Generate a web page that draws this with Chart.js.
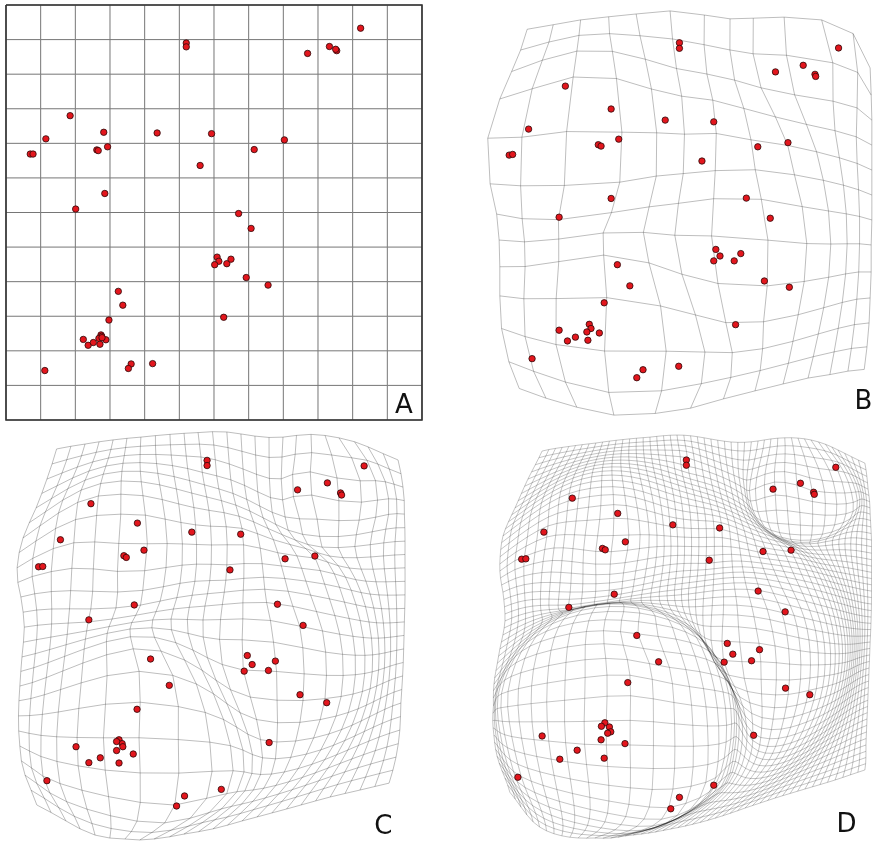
<!DOCTYPE html>
<html>
<head>
<meta charset="utf-8">
<script src="https://cdn.jsdelivr.net/npm/chart.js@4.4.1/dist/chart.umd.min.js"></script>
<style>
  body { margin: 0; background: #fff; }
  #page { position: relative; width: 873px; height: 842px; overflow: hidden; }
  #page canvas { position: absolute; }
</style>
</head>
<body>
<div id="page">
  <canvas id="panelA" width="430" height="425" style="left:0;top:0"></canvas>
  <canvas id="panelB" width="443" height="425" style="left:430px;top:0"></canvas>
  <canvas id="panelC" width="430" height="417" style="left:0;top:425px"></canvas>
  <canvas id="panelD" width="443" height="417" style="left:430px;top:425px"></canvas>
</div>
<script>
// All coordinates are in cells of the original 12 x 12 grid (panel A), y grows downward.

// --- Points that can be followed through every panel (same order in each) ---
const ptAx = [5.20, 5.20, 10.23, 8.70, 9.33, 9.54, 9.51, 1.85, 1.15, 0.70, 0.78, 2.82, 2.62, 2.66, 2.93, 4.36, 5.93, 5.60, 8.03, 7.16, 2.85, 2.01, 6.71, 7.07, 6.09, 6.14, 6.02, 6.37, 6.49, 6.93, 7.56, 6.28, 3.24, 3.37, 2.97, 3.61, 3.53, 4.23, 1.12];
const ptAy = [1.10, 1.21, 0.67, 1.40, 1.20, 1.32, 1.28, 3.20, 3.87, 4.31, 4.31, 3.68, 4.19, 4.21, 4.10, 3.70, 3.72, 4.64, 3.90, 4.18, 5.45, 5.90, 6.03, 6.46, 7.29, 7.41, 7.51, 7.48, 7.35, 7.88, 8.10, 9.03, 8.28, 8.68, 9.11, 10.38, 10.51, 10.37, 10.57];

const ptBx = [5.81, 5.81, 10.40, 8.58, 9.38, 9.72, 9.74, 2.52, 1.46, 0.90, 1.00, 3.84, 3.47, 3.55, 4.06, 5.40, 6.80, 6.46, 8.94, 8.07, 3.84, 2.34, 7.74, 8.43, 6.86, 6.98, 6.80, 7.39, 7.58, 8.26, 8.98, 7.43, 4.02, 4.38, 3.64, 4.76, 4.58, 5.79, 1.56];
const ptBy = [1.09, 1.25, 1.24, 1.93, 1.74, 2.00, 2.06, 2.34, 3.58, 4.33, 4.31, 3.00, 4.03, 4.07, 3.87, 3.32, 3.37, 4.50, 3.97, 4.09, 5.58, 6.12, 5.57, 6.15, 7.05, 7.24, 7.38, 7.38, 7.17, 7.96, 8.14, 9.22, 7.49, 8.10, 8.59, 10.52, 10.75, 10.42, 10.20];

const ptCx = [5.80, 5.80, 10.33, 8.41, 9.27, 9.65, 9.68, 2.45, 1.57, 0.94, 1.06, 3.79, 3.40, 3.47, 3.98, 5.36, 6.77, 6.46, 8.91, 8.05, 3.70, 2.39, 7.83, 8.57, 6.96, 7.10, 6.87, 7.57, 7.77, 8.48, 9.25, 7.59, 4.17, 4.71, 3.78, 5.15, 4.92, 6.21, 1.18];
const ptCy = [1.02, 1.17, 1.18, 1.87, 1.67, 1.96, 2.02, 2.27, 3.31, 4.09, 4.08, 2.83, 3.77, 3.82, 3.61, 3.09, 3.15, 4.18, 3.78, 3.86, 5.19, 5.62, 5.17, 5.78, 6.65, 6.91, 7.10, 7.08, 6.81, 7.78, 8.01, 9.16, 6.75, 7.51, 8.20, 10.70, 10.99, 10.51, 10.26];

const ptDx = [6.01, 6.01, 10.32, 8.51, 9.30, 9.68, 9.70, 2.72, 1.90, 1.26, 1.38, 4.03, 3.59, 3.67, 4.25, 5.62, 6.97, 6.67, 9.03, 8.22, 3.93, 2.62, 8.08, 8.86, 7.19, 7.35, 7.10, 7.89, 8.12, 8.87, 9.57, 7.95, 4.58, 5.21, 4.32, 5.81, 5.56, 6.80, 1.15];
const ptDy = [1.01, 1.16, 1.22, 1.85, 1.68, 1.94, 2.00, 2.11, 3.09, 3.87, 3.86, 2.55, 3.56, 3.60, 3.37, 2.88, 2.97, 3.90, 3.61, 3.65, 4.88, 5.26, 4.79, 5.39, 6.30, 6.61, 6.84, 6.80, 6.48, 7.59, 7.78, 8.95, 6.07, 6.83, 7.43, 10.74, 11.07, 10.39, 10.16];

// --- The dense cluster, lower left (overlapping dots, read per panel) ---
const clAx = [2.74, 2.76, 2.68, 2.23, 2.37, 2.52, 2.71, 2.88, 2.77];
const clAy = [9.54, 9.58, 9.64, 9.67, 9.84, 9.76, 9.81, 9.68, 9.62];
const clBx = [3.21, 3.26, 3.14, 2.34, 2.58, 2.81, 3.17, 3.50];
const clBy = [9.21, 9.33, 9.43, 9.38, 9.69, 9.58, 9.67, 9.46];
const clCx = [3.26, 3.35, 3.19, 3.37, 3.19, 3.67, 2.02, 2.72, 2.39, 3.26];
const clCy = [9.08, 9.19, 9.13, 9.28, 9.39, 9.49, 9.28, 9.60, 9.74, 9.75];
const clDx = [3.66, 3.56, 3.79, 3.83, 3.74, 3.55, 4.24, 1.85, 2.86, 2.36, 3.64];
const clDy = [8.59, 8.69, 8.71, 8.85, 8.89, 9.08, 9.19, 8.97, 9.38, 9.64, 9.61];

// --- Outline of each warped grid: 48 border nodes, clockwise from top-left ---
const edgeBx = [1.42, 2.17, 2.96, 3.77, 4.56, 5.54, 6.53, 7.27, 7.94, 8.83, 9.91, 10.82,
  11.31, 11.34, 11.36, 11.36, 11.36, 11.36, 11.36, 11.34, 11.34, 11.31, 11.28, 11.22,
  11.14, 10.67, 10.15, 9.52, 8.80, 7.99, 7.08, 6.13, 5.11, 3.92, 2.85, 1.96,
  1.19, 0.89, 0.68, 0.63, 0.63, 0.61, 0.54, 0.35, 0.28, 0.63, 0.97, 1.23];
const edgeBy = [0.70, 0.57, 0.43, 0.34, 0.26, 0.17, 0.29, 0.40, 0.38, 0.35, 0.43, 0.82,
  1.82, 2.60, 3.32, 4.04, 4.76, 5.48, 6.20, 6.92, 7.70, 8.45, 9.17, 9.86,
  10.51, 10.56, 10.66, 10.76, 10.93, 11.13, 11.36, 11.63, 11.78, 11.83, 11.60, 11.34,
  11.06, 10.29, 9.33, 8.39, 7.55, 6.78, 6.03, 5.16, 3.84, 2.71, 1.92, 1.30];

const edgeCx = [1.46, 2.28, 3.09, 3.89, 4.73, 5.54, 6.37, 7.18, 7.99, 8.80, 9.60, 10.44,
  11.31, 11.45, 11.49, 11.51, 11.51, 11.51, 11.49, 11.47, 11.44, 11.39, 11.36, 11.25,
  11.05, 10.21, 9.35, 8.51, 7.67, 6.81, 5.97, 5.13, 4.27, 3.43, 2.57, 1.73,
  0.89, 0.55, 0.40, 0.36, 0.40, 0.46, 0.53, 0.43, 0.32, 0.49, 0.87, 1.18];
const edgeCy = [0.69, 0.55, 0.43, 0.35, 0.27, 0.22, 0.20, 0.32, 0.35, 0.27, 0.37, 0.63,
  1.01, 1.79, 2.57, 3.35, 4.12, 4.90, 5.68, 6.46, 7.24, 8.02, 8.80, 9.58,
  10.33, 10.53, 10.73, 10.96, 11.19, 11.42, 11.65, 11.80, 11.94, 11.94, 11.83, 11.42,
  10.96, 10.10, 9.26, 8.39, 7.53, 6.69, 5.83, 4.96, 4.12, 3.26, 2.39, 1.56];

const edgeDx = [1.85, 2.62, 3.40, 4.18, 4.96, 5.74, 6.52, 7.30, 8.08, 8.85, 9.60, 10.38,
  11.16, 11.25, 11.31, 11.35, 11.35, 11.35, 11.34, 11.31, 11.28, 11.25, 11.22, 11.19,
  11.16, 10.30, 9.43, 8.57, 7.70, 6.84, 5.97, 5.11, 4.24, 3.37, 2.42, 1.59,
  0.92, 0.61, 0.46, 0.45, 0.48, 0.63, 0.78, 0.72, 0.63, 0.72, 1.07, 1.44];
const edgeDy = [0.75, 0.62, 0.52, 0.42, 0.35, 0.29, 0.37, 0.49, 0.46, 0.37, 0.43, 0.72,
  1.10, 1.85, 2.57, 3.32, 4.07, 4.79, 5.54, 6.26, 7.01, 7.76, 8.48, 9.23,
  9.95, 10.24, 10.50, 10.76, 11.05, 11.34, 11.57, 11.74, 11.85, 11.91, 11.85, 11.45,
  10.59, 9.75, 8.94, 8.10, 7.30, 6.46, 5.65, 4.82, 4.01, 3.20, 2.39, 1.56];

// --- Round lens of panel D, lower left: centre and ring radii, in A and in D ---
const bigLensCentreA = [2.86, 9.52];
const bigLensCentreD = [3.95, 8.68];
const bigLensRadiusA = [1.79, 2.54];
const bigLensRadiusD = [3.32, 3.55];
const bigLensAngles = [-165, -150, -135, -120, -105, -90, -75, -60, -45, -30, -15, 0, 15, 30];

// --- Lens round the top-right group, seen in C and D ---
const topLensCentreA = [9.35, 1.07];
const topLensCentreC = [9.43, 1.67];
const topLensCentreD = [9.43, 1.67];
const topLensRadiusA = [1.30, 1.90];
const topLensRadiusC = [1.45, 1.85];
const topLensRadiusD = [1.60, 1.75];
const topLensAngles = [30, 50, 70, 90, 110, 130, 150, 170];

const GRID_SIZE = 12;

// --- Helpers ---
const mean = a => a.reduce((s, v) => s + v, 0) / a.length;

// border nodes of the original square, same clockwise order as the edge arrays
function squareBorder() {
  const xs = [], ys = [];
  for (let i = 0; i < 12; i++) { xs.push(i); ys.push(0); }
  for (let j = 0; j < 12; j++) { xs.push(12); ys.push(j); }
  for (let i = 0; i < 12; i++) { xs.push(12 - i); ys.push(12); }
  for (let j = 0; j < 12; j++) { xs.push(0); ys.push(12 - j); }
  return { xs, ys };
}

// smoothing thin-plate spline from the original square to a warped panel
function makeWarp(sx, sy, dx, dy, lambda) {
  const n = sx.length, m = n + 3;
  const kern = (ax, ay) => { const r2 = ax * ax + ay * ay; return r2 > 1e-9 ? 0.5 * r2 * Math.log(r2) : 0; };
  const M = [];
  for (let i = 0; i < m; i++) M.push(new Array(m + 2).fill(0));
  for (let i = 0; i < n; i++) {
    for (let j = 0; j < n; j++) M[i][j] = kern(sx[i] - sx[j], sy[i] - sy[j]) + (i === j ? lambda : 0);
    M[i][n] = M[n][i] = 1;
    M[i][n + 1] = M[n + 1][i] = sx[i];
    M[i][n + 2] = M[n + 2][i] = sy[i];
    M[i][m] = dx[i];
    M[i][m + 1] = dy[i];
  }
  for (let c = 0; c < m; c++) {
    let p = c;
    for (let r = c + 1; r < m; r++) if (Math.abs(M[r][c]) > Math.abs(M[p][c])) p = r;
    [M[c], M[p]] = [M[p], M[c]];
    for (let r = 0; r < m; r++) {
      if (r === c) continue;
      const f = M[r][c] / M[c][c];
      if (f === 0) continue;
      for (let k = c; k < m + 2; k++) M[r][k] -= f * M[c][k];
    }
  }
  const wx = [], wy = [];
  for (let i = 0; i < m; i++) { wx.push(M[i][m] / M[i][i]); wy.push(M[i][m + 1] / M[i][i]); }
  return (x, y) => {
    let ox = wx[n] + wx[n + 1] * x + wx[n + 2] * y;
    let oy = wy[n] + wy[n + 1] * x + wy[n + 2] * y;
    for (let i = 0; i < n; i++) {
      const k = kern(x - sx[i], y - sy[i]);
      ox += wx[i] * k;
      oy += wy[i] * k;
    }
    return { x: ox, y: oy };
  };
}

// ring anchors that hold a round lens in place
function ringAnchors(out, cA, cP, rA, rP, angles) {
  angles.forEach(deg => {
    const t = deg * Math.PI / 180, c = Math.cos(t), s = Math.sin(t);
    rA.forEach((ra, k) => {
      out.sx.push(cA[0] + ra * c);
      out.sy.push(cA[1] + ra * s);
      out.dx.push(cP[0] + rP[k] * c);
      out.dy.push(cP[1] + rP[k] * s);
    });
  });
  return out;
}

function warpFor(px, py, cx, cy, ex, ey, extra) {
  const border = squareBorder();
  const sx = [...ptAx, mean(clAx), ...border.xs, ...extra.sx];
  const sy = [...ptAy, mean(clAy), ...border.ys, ...extra.sy];
  const dx = [...px, mean(cx), ...ex, ...extra.dx];
  const dy = [...py, mean(cy), ...ey, ...extra.dy];
  return makeWarp(sx, sy, dx, dy, 0.02);
}

// grid lines of an n x n lattice over the square, pushed through a mapping
function gridLines(cells, map, color, width) {
  const sets = [];
  const step = GRID_SIZE / cells;
  for (let a = 0; a <= cells; a++) {
    const rowPts = [], colPts = [];
    for (let b = 0; b <= cells; b++) {
      rowPts.push(map(b * step, a * step));
      colPts.push(map(a * step, b * step));
    }
    [rowPts, colPts].forEach(data => sets.push({
      data, showLine: true, pointRadius: 0, borderColor: color, borderWidth: width,
      borderDash: [5000, 1], fill: false, tension: 0, order: 2, clip: false
    }));
  }
  return sets;
}

function dots(xs, ys) {
  return {
    data: xs.map((x, i) => ({ x, y: ys[i] })),
    pointRadius: 3.2,
    pointBackgroundColor: '#e3161d',
    pointBorderColor: '#2a0909',
    pointBorderWidth: 0.8,
    showLine: false,
    order: 0,
    clip: false
  };
}

const panelLabel = {
  id: 'panelLabel',
  afterDraw(chart, args, opts) {
    const ctx = chart.ctx;
    ctx.save();
    ctx.font = '26px "DejaVu Sans"';
    ctx.fillStyle = '#111';
    ctx.textBaseline = 'alphabetic';
    ctx.fillText(opts.text, opts.x, opts.y);
    ctx.restore();
  }
};

function drawPanel(id, datasets, range, label) {
  new Chart(document.getElementById(id), {
    type: 'scatter',
    data: { datasets },
    options: {
      responsive: false,
      animation: false,
      events: [],
      layout: { padding: 0, autoPadding: false },
      scales: {
        x: { type: 'linear', display: false, min: range[0], max: range[1] },
        y: { type: 'linear', display: false, reverse: true, min: range[2], max: range[3] }
      },
      plugins: { legend: { display: false }, tooltip: { enabled: false }, panelLabel: label }
    },
    plugins: [panelLabel]
  });
}

// --- Panel A: the original regular grid ---
const identity = (x, y) => ({ x, y });
const frameA = {
  data: [{ x: 0, y: 0 }, { x: 12, y: 0 }, { x: 12, y: 12 }, { x: 0, y: 12 }, { x: 0, y: 0 }],
  showLine: true, pointRadius: 0, borderColor: '#333', borderWidth: 1.6,
  borderDash: [5000, 1], fill: false, order: 1, clip: false
};
drawPanel('panelA',
  [dots([...ptAx, ...clAx], [...ptAy, ...clAy]), frameA, ...gridLines(12, identity, '#767676', 1)],
  [-0.173, 12.231, -0.145, 12.145],
  { text: 'A', x: 395, y: 412.7 });

// --- Panels B, C, D: the same points under increasingly strong warps ---
const noLens = { sx: [], sy: [], dx: [], dy: [] };
const lensesC = ringAnchors({ sx: [], sy: [], dx: [], dy: [] },
  topLensCentreA, topLensCentreC, topLensRadiusA, topLensRadiusC, topLensAngles);
const lensesD = ringAnchors(
  ringAnchors({ sx: [], sy: [], dx: [], dy: [] },
    bigLensCentreA, bigLensCentreD, bigLensRadiusA, bigLensRadiusD, bigLensAngles),
  topLensCentreA, topLensCentreD, topLensRadiusA, topLensRadiusD, topLensAngles);

const warpB = warpFor(ptBx, ptBy, clBx, clBy, edgeBx, edgeBy, noLens);
const warpC = warpFor(ptCx, ptCy, clCx, clCy, edgeCx, edgeCy, lensesC);
const warpD = warpFor(ptDx, ptDy, clDx, clDy, edgeDx, edgeDy, lensesD);

drawPanel('panelB',
  [dots([...ptBx, ...clBx], [...ptBy, ...clBy]), ...gridLines(12, warpB, 'rgba(0,0,0,0.33)', 0.8)],
  [-1.384, 11.393, -0.144, 12.114],
  { text: 'B', x: 424.4, y: 409 });

drawPanel('panelC',
  [dots([...ptCx, ...clCx], [...ptCy, ...clCy]), ...gridLines(24, warpC, 'rgba(0,0,0,0.33)', 0.8)],
  [-0.173, 12.230, 0, 12.028],
  { text: 'C', x: 374.3, y: 409.3 });

drawPanel('panelD',
  [dots([...ptDx, ...clDx], [...ptDy, ...clDy]), ...gridLines(48, warpD, 'rgba(0,0,0,0.33)', 0.7)],
  [-1.384, 11.393, 0, 12.028],
  { text: 'D', x: 406.4, y: 407 });
</script>
</body>
</html>
